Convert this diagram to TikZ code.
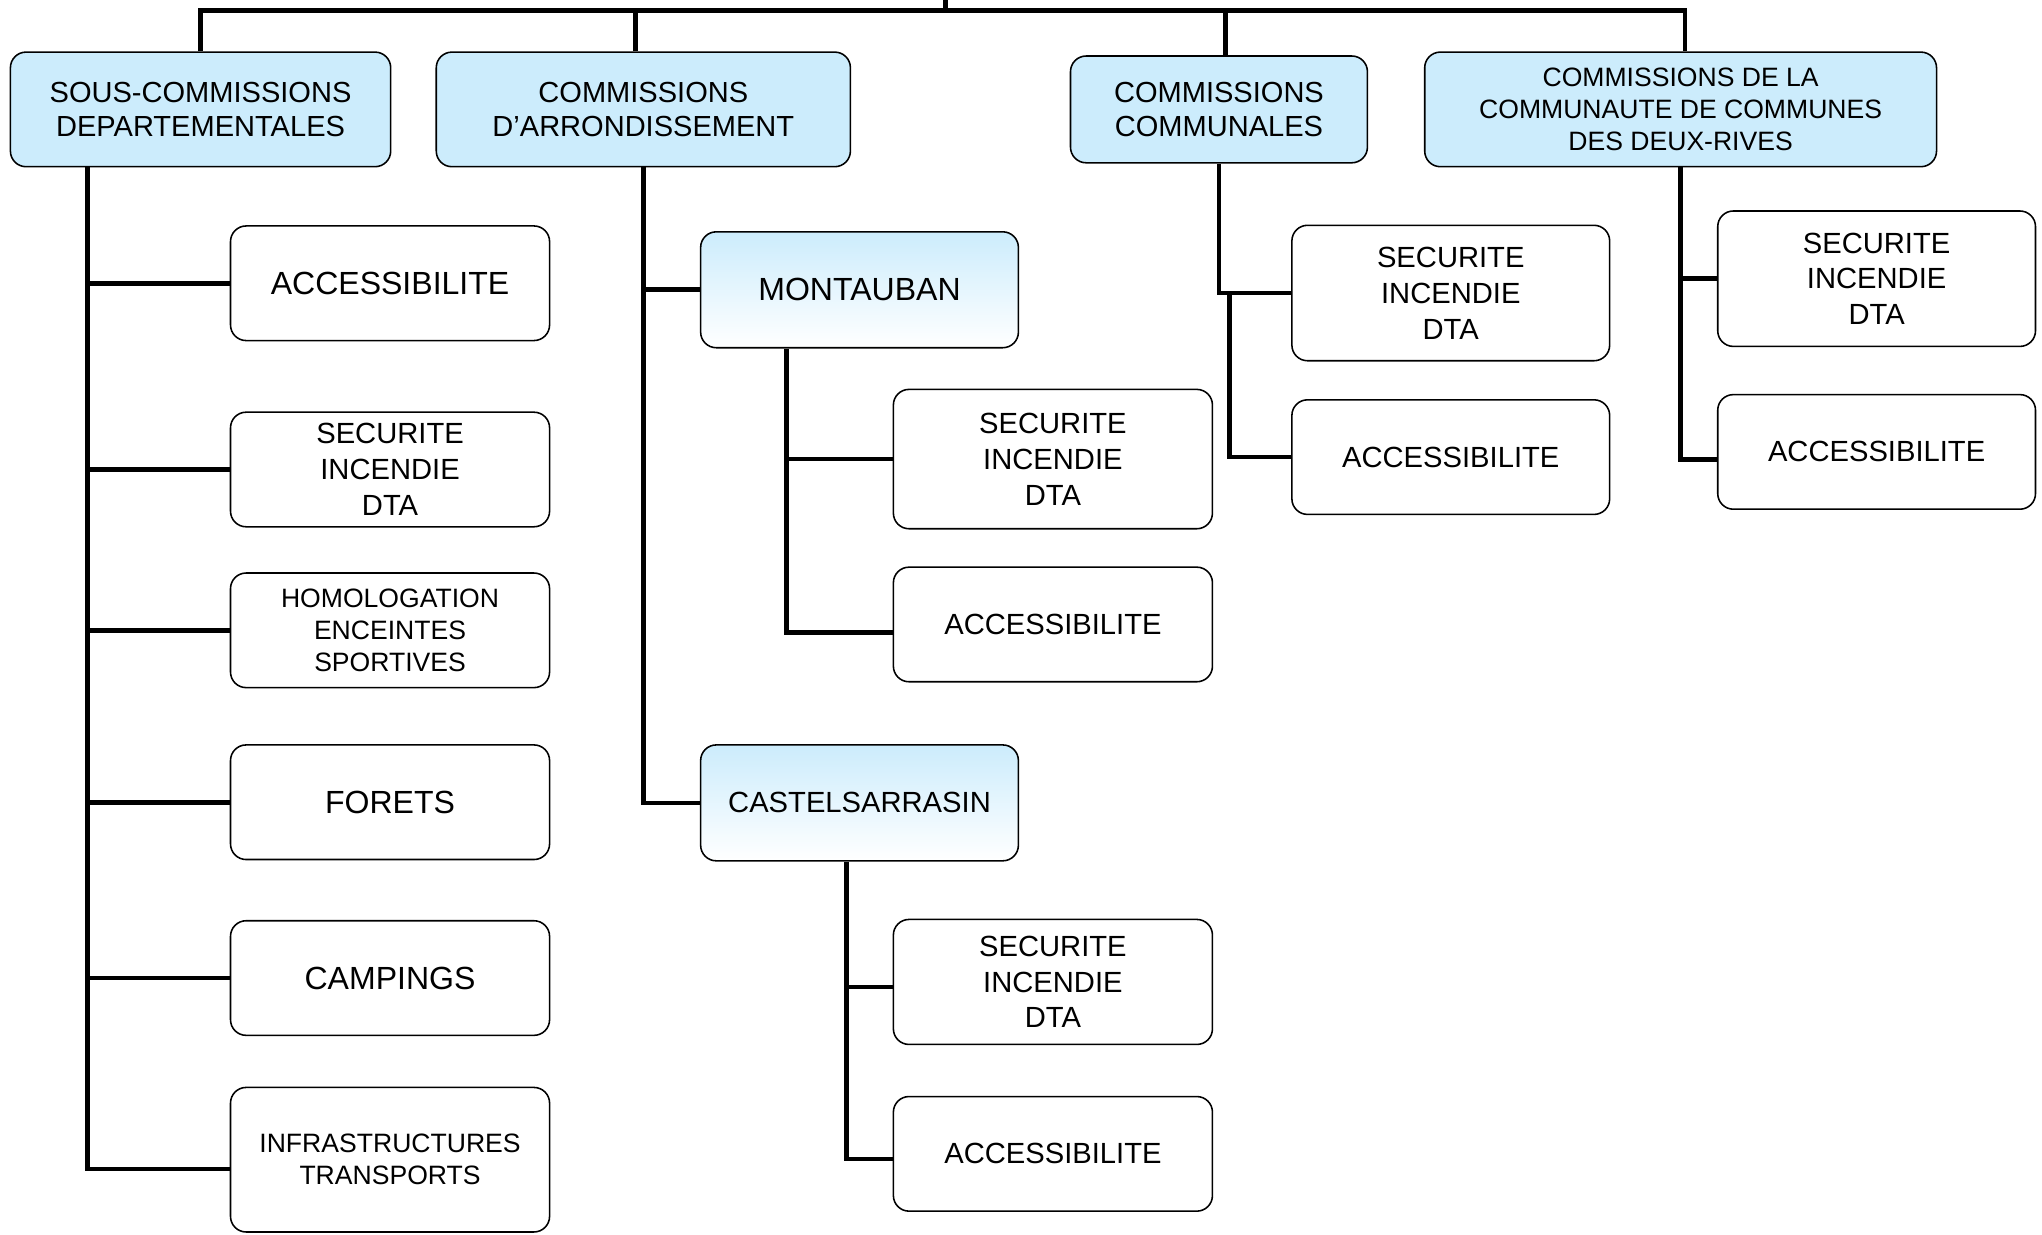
\documentclass[tikz,border=0pt]{standalone}
\usepackage{fontspec}
\setmainfont{Liberation Sans}
\usetikzlibrary{calc}
\usetikzlibrary{shadings}
\definecolor{hdbg}{RGB}{204,236,252}
\tikzset{cmn/.style={
  draw,
  line width=1.2pt,
  fill=white,
  shape=rectangle,
  rounded corners=12pt,
  align=center,
  inner sep=0pt,
  minimum width=245pt,
  minimum height=88pt,
  font=\fontsize{22.4}{27.5}\selectfont
}}
\tikzset{hdn/.style={
  cmn,
  fill=hdbg,
  font=\fontsize{22.3}{26}\selectfont
}}
\tikzset{vln/.style={
  cmn,
  top color=hdbg,
  bottom color=white,
  minimum width=244pt,
  minimum height=89pt
}}
\tikzset{big/.style={font=\fontsize{24.6}{28}\selectfont}}
\tikzset{sml/.style={font=\fontsize{20.4}{24.5}\selectfont}}
\tikzset{lnk/.style={line width=3.5pt}}

\begin{document}
\begin{tikzpicture}[x=1pt,y=-1pt]
    \useasboundingbox (0,0) rectangle (1568,948);

    %% Headers
    \node[hdn,minimum width=292pt] (h1) at (154,84)
      {SOUS-COMMISSIONS\\DEPARTEMENTALES};
    \node[hdn,minimum width=318pt] (h2) at (494,84)
      {COMMISSIONS\\D’ARRONDISSEMENT};
    \node[hdn,minimum width=228pt,minimum height=82pt] (h3) at (936,84)
      {COMMISSIONS\\COMMUNALES};
    \node[hdn,sml,minimum width=393pt] (h4) at (1290.5,84)
      {COMMISSIONS DE LA\\COMMUNAUTE DE COMMUNES\\DES DEUX-RIVES};

    % Top bar
    \coordinate (root) at (726,0);
    \draw[lnk] (root) -- ++(0,8) coordinate (bar);
    \draw[lnk] (h1.north) |- (bar) -| ([xshift=3.5]h4.north);
    \draw[lnk] ([xshift=-6]h2.north) -- ([xshift=-6]h2.north |- bar);
    \draw[lnk] ([xshift=5]h3.north) -- ([xshift=5]h3.north |- bar);

    %% Sous-commissions departementales
    \node[cmn,big] (a1) at (299.5,217.5) {ACCESSIBILITE};
    \node[cmn] (a2) at (299.5,360.5) {SECURITE\\INCENDIE\\DTA};
    \node[cmn,sml] (a3) at (299.5,484) {HOMOLOGATION\\ENCEINTES\\SPORTIVES};
    \node[cmn,big] (a4) at (299.5,616) {FORETS};
    \node[cmn,big] (a5) at (299.5,751) {CAMPINGS};
    \node[cmn,sml,minimum height=111pt] (a6) at (299.5,890.5)
      {INFRASTRUCTURES\\TRANSPORTS};

    \coordinate (ltr) at ([xshift=-87]h1.south);
    \draw[lnk] (ltr) |- ([yshift=-7]a6.west);
    \foreach \n in {a1,a2,a3,a4,a5}
      \draw[lnk] (\n.west) -- (\n.west -| ltr);

    %% Commissions d'arrondissement
    \node[vln,big] (m) at (660,222.5) {MONTAUBAN};
    \node[vln] (c) at (660,616.5) {CASTELSARRASIN};
    \node[cmn,minimum height=107pt] (m1) at (808.5,352.5)
      {SECURITE\\INCENDIE\\DTA};
    \node[cmn] (m2) at (808.5,479.5) {ACCESSIBILITE};
    \node[cmn,minimum height=96pt] (c1) at (808.5,754)
      {SECURITE\\INCENDIE\\DTA};
    \node[cmn] (c2) at (808.5,886) {ACCESSIBILITE};

    \draw[lnk] (h2.south) |- (c.west);
    \draw[lnk] (m.west) -- (m.west -| h2.south);
    \coordinate (mtr) at ([xshift=-56]m.south);
    \draw[lnk] (mtr) |- ([yshift=-6]m2.west);
    \draw[lnk] (m1.west) -- (m1.west -| mtr);
    \coordinate (ctr) at ([xshift=-10]c.south);
    \draw[lnk] (ctr) |- ([yshift=-4]c2.west);
    \draw[lnk] ([yshift=-4]c1.west) -- ([yshift=-4]c1.west -| ctr);

    %% Commissions communales
    \node[cmn,minimum width=244pt,minimum height=104pt] (s1) at (1114,225)
      {SECURITE\\INCENDIE\\DTA};
    \node[cmn,minimum width=244pt] (s2) at (1114,351) {ACCESSIBILITE};

    \draw[lnk] (h3.south) |- (s1.west);
    \coordinate (str) at ([xshift=8]h3.south |- s1.west);
    \draw[lnk] (str) |- (s2.west);

    %% Communaute de communes
    \node[cmn,minimum width=244pt,minimum height=104pt] (d1) at (1441,214)
      {SECURITE\\INCENDIE\\DTA};
    \node[cmn,minimum width=244pt] (d2) at (1441,347) {ACCESSIBILITE};

    \draw[lnk] (h4.south) |- ([yshift=-6]d2.west);
    \draw[lnk] (d1.west) -- (d1.west -| h4.south);

  \end{tikzpicture}
\end{document}
